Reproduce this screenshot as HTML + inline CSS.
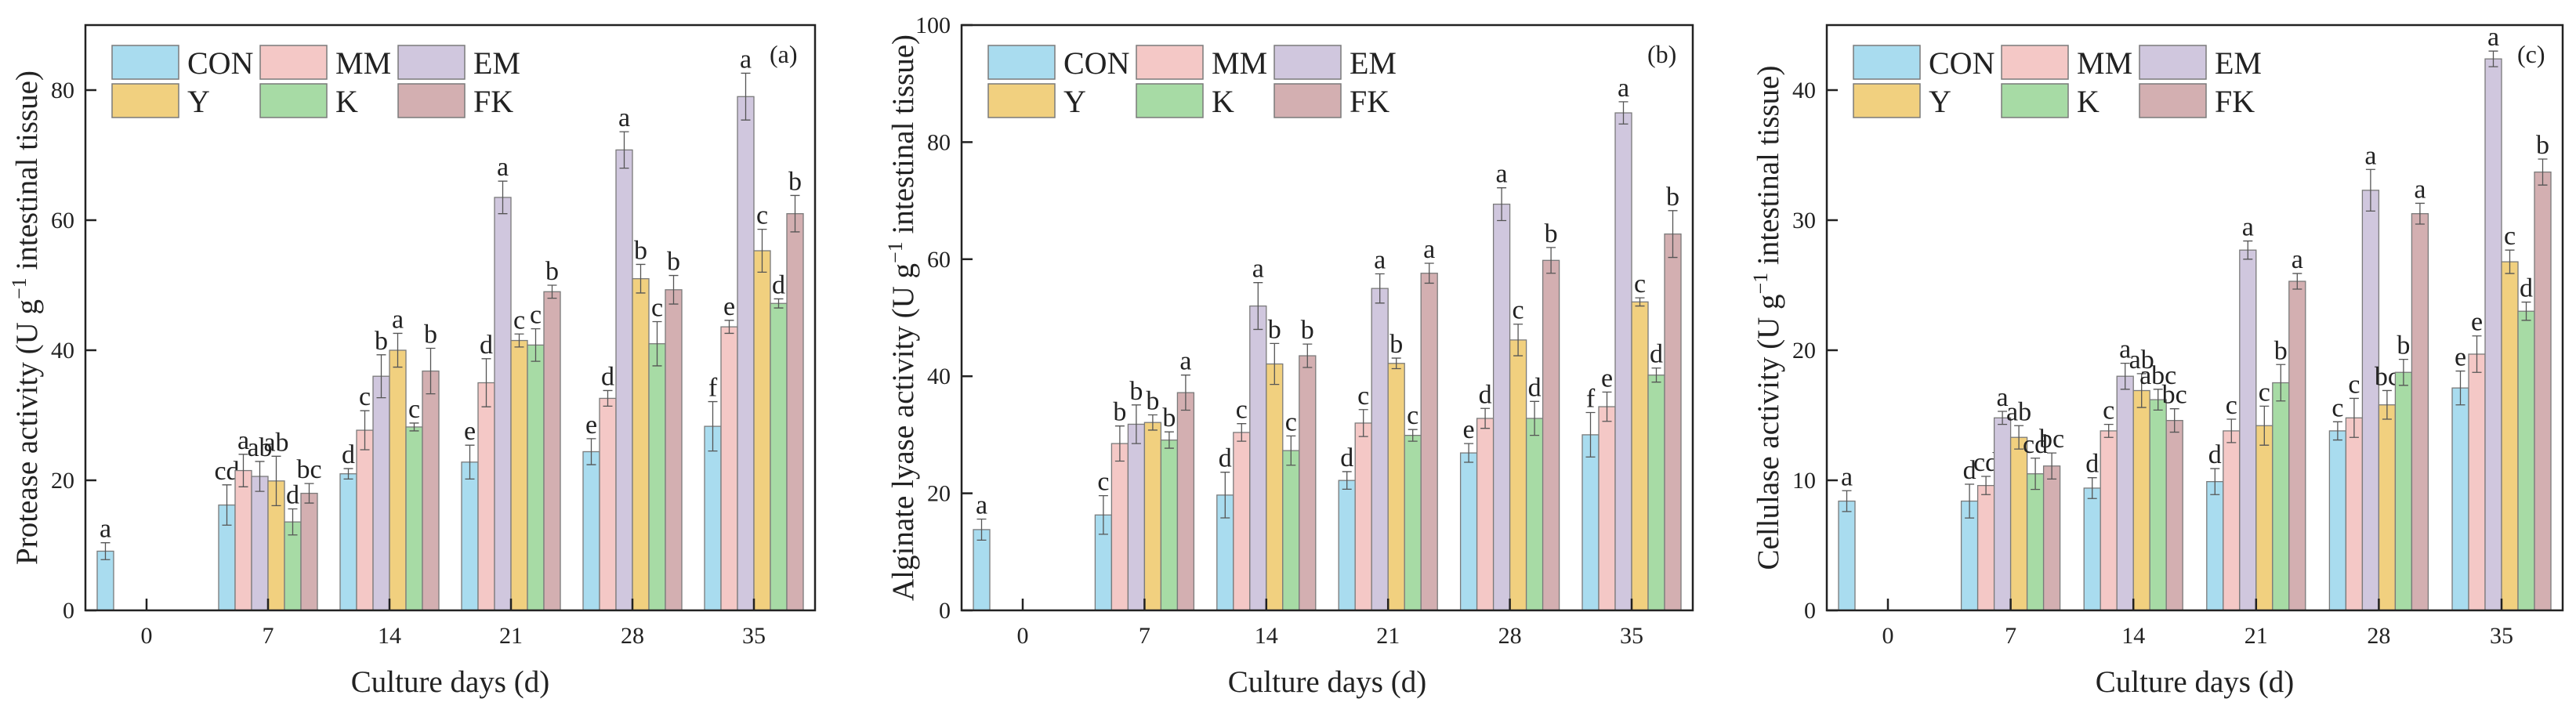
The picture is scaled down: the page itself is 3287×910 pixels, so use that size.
<!DOCTYPE html>
<html><head><meta charset="utf-8"><style>
html,body{margin:0;padding:0;background:#fff}
svg{display:block}
text{font-family:"Liberation Serif",serif;fill:#222}
</style></head><body>
<svg id="fig" width="3287" height="910" viewBox="0 0 3287 910" xmlns="http://www.w3.org/2000/svg"></svg>
<script>
const days = ["0","7","14","21","28","35"];
const groups = ["CON","MM","EM","Y","K","FK"];
const colors = ["#a9dcef","#f4c8c6","#d0c7de","#f1d07f","#a7dba5","#d3afb1"];
// panel a protease
const protease = [[9.1],[16.2,21.5,20.6,19.9,13.6,18.0],[21.0,27.7,36.0,40.0,28.2,36.8],[22.8,35.0,63.5,41.5,40.8,49.0],[24.4,32.6,70.8,51.0,41.0,49.3],[28.3,43.6,79.0,55.3,47.2,61.0]];
const proteaseErr = [[1.3],[3.1,2.5,2.3,3.8,2.0,1.5],[0.8,3.0,3.3,2.6,0.6,3.5],[2.6,3.7,2.5,1.0,2.5,1.0],[2.0,1.2,2.8,2.2,3.4,2.2],[3.8,1.0,3.6,3.3,0.7,2.8]];
const proteaseLetters = [["a"],["cd","a","ab","ab","d","bc"],["d","c","b","a","c","b"],["e","d","a","c","c","b"],["e","d","a","b","c","b"],["f","e","a","c","d","b"]];
// panel b alginate lyase
const alginate = [[13.8],[16.3,28.5,31.8,32.1,29.1,37.2],[19.7,30.4,52.0,42.1,27.3,43.5],[22.2,32.0,55.0,42.2,29.9,57.6],[26.9,32.8,69.4,46.2,32.8,59.8],[30.0,34.8,85.0,52.7,40.2,64.3]];
const alginateErr = [[1.8],[3.3,3.0,3.3,1.3,1.4,3.0],[3.9,1.5,4.0,3.5,2.5,2.0],[1.5,2.3,2.5,0.9,1.0,1.7],[1.6,1.7,2.8,2.7,2.9,2.2],[3.8,2.5,1.9,0.7,1.2,4.0]];
const alginateLetters = [["a"],["c","b","b","b","b","a"],["d","c","a","b","c","b"],["d","c","a","b","c","a"],["e","d","a","c","d","b"],["f","e","a","c","d","b"]];
// panel c cellulase
const cellulase = [[8.4],[8.4,9.6,14.8,13.3,10.5,11.1],[9.4,13.8,18.0,16.9,16.2,14.6],[9.9,13.8,27.7,14.2,17.5,25.3],[13.8,14.8,32.3,15.8,18.3,30.5],[17.1,19.7,42.4,26.8,23.0,33.7]];
const cellulaseErr = [[0.8],[1.3,0.7,0.5,0.9,1.2,1.0],[0.8,0.5,1.0,1.3,0.8,0.9],[1.0,0.9,0.7,1.5,1.4,0.6],[0.7,1.5,1.6,1.1,1.0,0.8],[1.3,1.4,0.6,0.9,0.7,1.0]];
const cellulaseLetters = [["a"],["d","cd","a","ab","cd","bc"],["d","c","a","ab","abc","bc"],["d","c","a","c","b","a"],["c","c","a","bc","b","a"],["e","e","a","c","d","b"]];
const ticksA = [0,20,40,60,80];
const ticksB = [0,20,40,60,80,100];
const ticksC = [0,10,20,30,40];

const NS="http://www.w3.org/2000/svg";
const svg=document.getElementById('fig');
function mk(tag,attrs,parent,txt){const e=document.createElementNS(NS,tag);for(const k in attrs)e.setAttribute(k,attrs[k]);if(txt!==undefined)e.textContent=txt;(parent||svg).appendChild(e);return e;}

const panels=[
 {id:"a",left:109,right:1040,max:90,ticks:ticksA,vals:protease,err:proteaseErr,let:proteaseLetters,title:"Protease activity (U g",label:"(a)"},
 {id:"b",left:1227,right:2160,max:100,ticks:ticksB,vals:alginate,err:alginateErr,let:alginateLetters,title:"Alginate lyase activity (U g",label:"(b)"},
 {id:"c",left:2331,right:3270,max:45,ticks:ticksC,vals:cellulase,err:cellulaseErr,let:cellulaseLetters,title:"Cellulase activity (U g",label:"(c)"}
];
const plotTop=32,plotBottom=779;
panels.forEach(p=>{
 const g=mk('g',{});
 
 
 const y=v=>plotBottom-(v/p.max)*(plotBottom-plotTop);
 const step=(p.right-p.left-78*2)/5;
 const xc=i=>p.left+78+i*step;
 const bw=21;
 p.vals.forEach((arr,i)=>{
  arr.forEach((v,j)=>{
   const cx=xc(i)+(j-2.5)*bw;
   const r=mk('rect',{x:cx-bw/2,y:y(v),width:bw,height:plotBottom-y(v),fill:colors[j],stroke:"#7a7a7a","stroke-width":1.3},g);
   
   
   const e=p.err[i][j];
   const eb=mk('path',{d:`M${cx},${y(v-e)}V${y(v+e)}M${cx-6},${y(v+e)}H${cx+6}M${cx-6},${y(v-e)}H${cx+6}`,stroke:"#555","stroke-width":1.3,fill:"none"},g);
   
   
   const t=mk('text',{x:cx,y:y(v+e)-7,"text-anchor":"middle","font-size":34},g,p.let[i][j]);
   
   
  });
 });
 const fr=mk('rect',{x:p.left,y:plotTop,width:p.right-p.left,height:plotBottom-plotTop,fill:"none",stroke:"#222","stroke-width":2.5},g);
 
 
 p.ticks.forEach(t=>{
  mk('line',{x1:p.left,x2:p.left+14,y1:y(t),y2:y(t),stroke:"#222","stroke-width":2.5},g);
  const tl=mk('text',{x:p.left-14,y:y(t)+10,"text-anchor":"end","font-size":30},g,t);
  
  
 });
 days.forEach((d,i)=>{
  mk('line',{x1:xc(i),x2:xc(i),y1:plotBottom,y2:plotBottom-15,stroke:"#222","stroke-width":2.5},g);
  const tl=mk('text',{x:xc(i),y:plotBottom+42,"text-anchor":"middle","font-size":30},g,d);
  
  
 });
 const xt=mk('text',{x:(p.left+p.right)/2,y:883,"text-anchor":"middle","font-size":39},g,"Culture days (d)");
 
 
 const yt=mk('text',{x:0,y:0,"text-anchor":"middle","font-size":39,transform:`translate(${p.left-62},${(plotTop+plotBottom)/2}) rotate(-90)`},g);
 
 
 yt.appendChild(document.createTextNode(p.title));
 mk('tspan',{dy:-14,"font-size":26},yt,"−1");
 mk('tspan',{dy:14},yt," intestinal tissue)");
 const pl=mk('text',{x:p.right-58,y:80,"font-size":32},g,p.label);
 
 
 const cols=[34,223,399];
 groups.forEach((name,j)=>{
  const col=j%3,row=Math.floor(j/3);
  const lx=p.left+cols[col], ly=58+row*49;
  const le=mk('g',{},g);
  
  
  mk('rect',{x:lx,y:ly,width:85,height:43,fill:colors[j],stroke:"#7a7a7a","stroke-width":1.5},le);
  mk('text',{x:lx+96,y:ly+36,"font-size":40},le,name);
 });
});
</script>
</body></html>
